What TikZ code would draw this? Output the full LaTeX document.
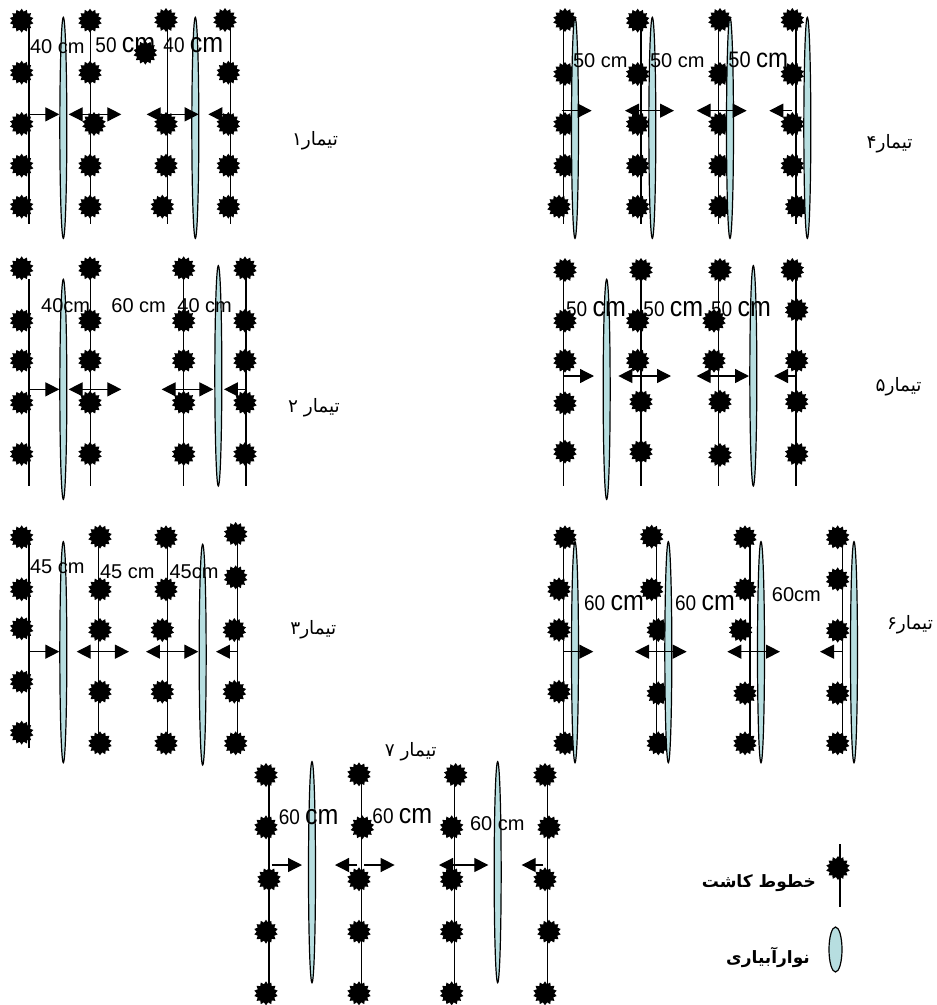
\documentclass[tikz,border=0pt]{standalone}
\usepackage{fontspec}
\setmainfont{Liberation Sans}
\newfontfamily\arabicfont[Script=Arabic]{DejaVu Sans}
\usetikzlibrary{shapes.geometric,arrows.meta}
\TeXXeTstate=1
\definecolor{tape}{HTML}{B7DEE0}
\tikzset{
  plant/.style={star,star points=14,star point ratio=1.3,minimum size=24pt,inner sep=0pt,fill=black,draw=none},
  rowline/.style={draw=black,line width=1.3pt},
  tapeshape/.style={ellipse,draw=black,line width=1.2pt,fill=tape,minimum width=7pt,inner sep=0pt},
  gap/.style={draw=black,line width=1.3pt},
  rtip/.style={-{Triangle[length=14pt,width=14pt]}},
  btip/.style={{Triangle[length=14pt,width=14pt]}-{Triangle[length=14pt,width=14pt]}},
  lab/.style={inner sep=0pt,text=black},
  fa/.style={inner sep=0pt,text=black,font=\arabicfont\fontsize{18.5}{21}\selectfont},
  fab/.style={inner sep=0pt,text=black,anchor=east,font=\arabicfont\bfseries\fontsize{17}{20}\selectfont},
  panel/.style={x=0.33333pt,y=-0.33333pt}
}
\newcommand{\rowl}[4]{\coordinate (#1a) at (#2,#3);\coordinate (#1b) at (#2,#4);\draw[rowline] (#1a) -- (#1b);}
\newcommand{\tapeat}[4]{\node[tapeshape,minimum height={(#4-#3)*0.33333pt}] (#1) at (#2,{(#3+#4)/2}) {};}
\newcommand{\gapar}[5]{\coordinate (#1a) at (#3,#5);\coordinate (#1b) at (#4,#5);\draw[gap,#2] (#1a) -- (#1b);}
\newcommand{\lbl}[6]{\node[lab] (#1) at (#2,#3) {\scalebox{1}[1.12]{\fontsize{#4}{#4}\selectfont #6\ \fontsize{#5}{#5}\selectfont cm}};}
\newcommand{\plantset}[2]{\foreach \x/\y [count=\i] in {#2} {\node[plant] (#1s\i) at (\x,\y) {};}}
\begin{document}
\begin{tikzpicture}[x=1pt,y=-1pt]
\useasboundingbox (0,0) rectangle (937,1005);
\fill[white] (0,0) rectangle (937,1005);

% Panel 1
\begin{scope}[shift={(0,0)},panel]
\rowl{pAa}{87}{62}{672}\rowl{pAb}{272}{62}{672}\rowl{pAc}{503}{60}{672}\rowl{pAd}{692}{60}{672}
\plantset{pA}{65/62,65/218,65/372,65/497,65/620,270/62,270/218,282/372,270/497,270/620,498/60,436/158,498/372,498/497,487/620,675/60,685/218,685/372,685/497,685/620}
\tapeat{pAe}{190}{52}{715}\tapeat{pAf}{586}{52}{715}
\gapar{pAg}{rtip}{87}{178}{343}\gapar{pAh}{btip}{206}{364}{343}\gapar{pAi}{btip}{440}{596}{343}\gapar{pAj}{rtip}{692}{625}{343}
\node[lab] (pAl1) at (172,140) {\fontsize{20}{20}\selectfont 40 cm};
\lbl{pAl2}{376}{136}{19}{25}{50}
\lbl{pAl3}{580}{136}{19}{25}{40}
\node[fa] (pAt) at (945,422) {\beginR تیمار۱\endR};
\end{scope}

% Panel 4
\begin{scope}[shift={(540,0)},panel]
\rowl{pDa}{70}{60}{672}\rowl{pDb}{303}{62}{672}\rowl{pDc}{535}{60}{672}\rowl{pDd}{768}{60}{672}
\plantset{pD}{75/60,75/222,75/372,75/497,57/620,293/62,293/222,293/372,293/497,293/620,540/60,540/222,540/372,540/497,540/620,757/60,757/222,757/372,757/497,770/620}
\tapeat{pDe}{105}{52}{715}\tapeat{pDf}{337}{52}{715}\tapeat{pDg}{570}{52}{715}\tapeat{pDh}{802}{52}{715}
\gapar{pDi}{rtip}{65}{155}{332}\gapar{pDj}{btip}{255}{402}{332}\gapar{pDk}{btip}{470}{620}{332}\gapar{pDm}{rtip}{755}{688}{332}
\node[lab] (pDl1) at (181,183) {\fontsize{20}{20}\selectfont 50 cm};
\node[lab] (pDl2) at (412,183) {\fontsize{20}{20}\selectfont 50 cm};
\lbl{pDl3}{655}{179}{20}{24}{50}
\node[fa] (pDt) at (1049,430) {\beginR تیمار۴\endR};
\end{scope}

% Panel 2
\begin{scope}[shift={(0,250)},panel]
\rowl{pBa}{87}{88}{708}\rowl{pBb}{272}{55}{708}\rowl{pBc}{551}{55}{708}\rowl{pBd}{738}{55}{708}
\plantset{pB}{65/55,65/212,65/332,65/458,65/612,270/55,270/212,270/332,270/458,270/612,551/55,551/212,551/332,551/458,551/612,735/55,735/212,735/332,735/458,735/612}
\tapeat{pBe}{190}{88}{748}\tapeat{pBf}{655}{47}{708}
\gapar{pBg}{rtip}{87}{178}{418}\gapar{pBh}{btip}{206}{364}{418}\gapar{pBi}{btip}{485}{640}{418}\gapar{pBj}{rtip}{738}{672}{418}
\node[lab] (pBl1) at (197,168) {\fontsize{20}{20}\selectfont 40cm};
\node[lab] (pBl2) at (416,168) {\fontsize{20}{20}\selectfont 60 cm};
\node[lab] (pBl3) at (614,168) {\fontsize{20}{20}\selectfont 40 cm};
\node[fa] (pBt) at (942,472) {\beginR تیمار ۲\endR};
\end{scope}

% Panel 5
\begin{scope}[shift={(540,250)},panel]
\rowl{pEa}{70}{60}{708}\rowl{pEb}{303}{60}{708}\rowl{pEc}{535}{60}{708}\rowl{pEd}{768}{60}{708}
\plantset{pE}{75/60,75/212,75/332,75/460,75/605,303/60,293/212,293/332,303/455,303/605,540/60,522/212,522/332,540/455,540/615,757/60,770/180,770/332,770/455,770/612}
\tapeat{pEe}{200}{88}{748}\tapeat{pEf}{640}{47}{708}
\gapar{pEg}{rtip}{70}{162}{378}\gapar{pEh}{btip}{235}{393}{378}\gapar{pEi}{btip}{470}{627}{378}\gapar{pEj}{rtip}{768}{702}{378}
\lbl{pEl1}{168}{178}{19}{25}{50}
\lbl{pEl2}{400}{178}{19}{25}{50}
\lbl{pEl3}{603}{178}{19}{25}{50}
\node[fa] (pEt) at (1076,410) {\beginR تیمار۵\endR};
\end{scope}

% Panel 3
\begin{scope}[shift={(0,510)},panel]
\rowl{pCa}{87}{82}{715}\rowl{pCb}{296}{80}{695}\rowl{pCc}{503}{82}{695}\rowl{pCd}{713}{72}{695}
\plantset{pC}{65/82,65/238,65/355,65/515,65/668,300/80,300/238,300/360,300/545,300/700,498/82,498/238,487/360,487/545,498/700,707/72,707/202,703/360,703/545,707/700}
\tapeat{pCe}{190}{95}{758}\tapeat{pCf}{608}{103}{765}
\gapar{pCg}{rtip}{87}{178}{425}\gapar{pCh}{btip}{230}{387}{425}\gapar{pCi}{btip}{438}{595}{425}\gapar{pCj}{rtip}{713}{648}{425}
\node[lab] (pCl1) at (172,170) {\fontsize{20}{20}\selectfont 45 cm};
\node[lab] (pCl2) at (382,185) {\fontsize{20}{20}\selectfont 45 cm};
\node[lab] (pCl3) at (582,185) {\fontsize{20}{20}\selectfont 45cm};
\node[fa] (pCt) at (940,360) {\beginR تیمار۳\endR};
\end{scope}

% Panel 6
\begin{scope}[shift={(540,510)},panel]
\rowl{pFa}{70}{82}{700}\rowl{pFb}{350}{80}{700}\rowl{pFc}{630}{82}{700}\rowl{pFd}{908}{82}{700}
\plantset{pF}{75/82,57/238,57/360,57/545,75/700,335/80,335/238,355/360,355/550,355/700,615/82,615/238,602/360,615/550,615/700,893/82,893/208,893/362,893/550,893/700}
\tapeat{pFe}{105}{95}{758}\tapeat{pFf}{385}{95}{758}\tapeat{pFg}{663}{95}{758}\tapeat{pFh}{942}{95}{758}
\gapar{pFi}{rtip}{70}{160}{425}\gapar{pFj}{btip}{285}{440}{425}\gapar{pFk}{btip}{562}{720}{425}\gapar{pFm}{rtip}{908}{840}{425}
\lbl{pFl1}{222}{278}{19}{25}{60}
\lbl{pFl2}{495}{278}{19}{25}{60}
\node[lab] (pFl3) at (769,255) {\fontsize{20}{20}\selectfont 60cm};
\node[fa] (pFt) at (1110,345) {\beginR تیمار۶\endR};
\end{scope}

% Panel 7
\begin{scope}[shift={(240,740)},panel]
\rowl{pGa}{87}{105}{770}\rowl{pGb}{365}{103}{770}\rowl{pGc}{644}{105}{770}\rowl{pGd}{923}{105}{770}
\plantset{pG}{78/105,78/262,87/418,78/575,78/760,357/103,367/262,357/418,357/575,357/760,647/105,635/262,635/418,635/575,635/760,915/105,927/262,915/418,927/575,915/760}
\tapeat{pGe}{216}{65}{728}\tapeat{pGf}{773}{65}{728}
\gapar{pGg}{rtip}{95}{186}{375}\gapar{pGh}{rtip}{352}{285}{375}\gapar{pGi}{rtip}{372}{464}{375}\gapar{pGj}{btip}{597}{745}{375}\gapar{pGk}{rtip}{910}{845}{375}
\lbl{pGl1}{206}{232}{19}{25}{60}
\lbl{pGl2}{487}{228}{19}{25}{60}
\node[lab] (pGl3) at (772,250) {\fontsize{20}{20}\selectfont 60 cm};
\node[fa] (pGt) at (512,35) {\beginR تیمار ۷\endR};
\end{scope}

% Legend
\coordinate (lga) at (840,844);
\coordinate (lgb) at (840,907);
\draw[rowline] (lga) -- (lgb);
\node[plant] (lgs) at (838,868) {};
\node[tapeshape,minimum width=13pt,minimum height=45pt] (lge) at (835.5,949.5) {};
\node[fab] (lgt1) at (816,883) {\beginR خطوط کاشت\endR};
\node[fab] (lgt2) at (810,957) {\beginR نوارآبیاری\endR};
\end{tikzpicture}
\end{document}
